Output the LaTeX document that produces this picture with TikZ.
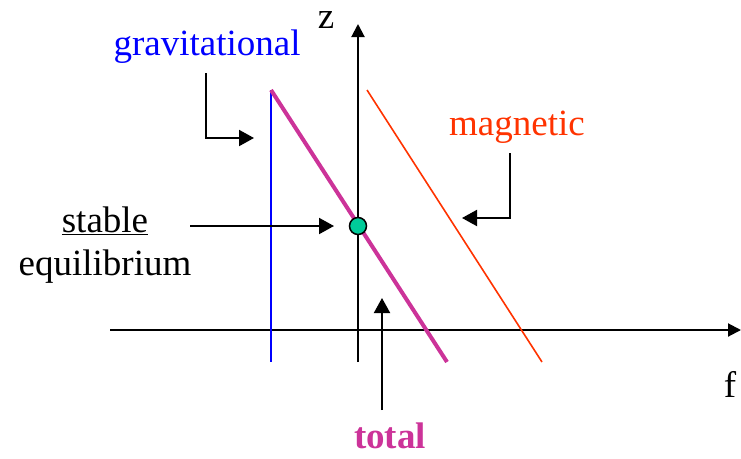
\documentclass[tikz,border=0pt]{standalone}
\usepackage{fontspec}
\setmainfont{Liberation Serif}
\usetikzlibrary{arrows.meta, positioning, calc}
\definecolor{gravblue}{RGB}{0,0,255}
\definecolor{magred}{RGB}{255,51,0}
\definecolor{totalpink}{RGB}{204,51,153}
\definecolor{eqgreen}{RGB}{0,204,153}
\tikzset{
    lbl/.style={font=\fontsize{37}{40}\selectfont, inner sep=0pt, anchor=base},
    ptr/.style={line width=2pt, -{Triangle[length=15pt,width=16pt]}}
}
\begin{document}
\begin{tikzpicture}[x=1pt,y=-1pt]
    \useasboundingbox (0,0) rectangle (741,458);

    % Axes
    \coordinate (xstart) at (110,330);
    \coordinate (xend) at (741,330);
    \coordinate (zstart) at (358,362);
    \coordinate (zend) at (358,24);
    \draw[line width=2pt, -{Triangle[length=13pt,width=13pt]}] (xstart) -- (xend);
    \draw[line width=2pt, -{Triangle[length=13pt,width=13pt]}] (zstart) -- (zend);
    \node[lbl] (zlabel) at (326,28) {z};
    \node[lbl] (flabel) at (730,397) {f};

    % Force lines
    \coordinate (gtop) at (271,90);
    \coordinate (gbot) at (271,362);
    \coordinate (ttop) at (271,90);
    \coordinate (tbot) at (447,362);
    \coordinate (mtop) at (367,90);
    \coordinate (mbot) at (542,362);
    \draw[gravblue, line width=1.6pt] (gtop) -- (gbot);
    \draw[magred, line width=1.6pt] (mtop) -- (mbot);
    \draw[totalpink, line width=4pt] (ttop) -- (tbot);

    % Equilibrium point
    \node[circle, draw, line width=1.5pt, fill=eqgreen, minimum size=17pt, inner sep=0pt] (eq) at (358,226) {};

    % Labels
    \node[lbl, gravblue] (grav) at (207,55) {gravitational};
    \node[lbl, magred] (mag) at (517,135) {magnetic};
    \node[lbl] (stable) at (105,232) {\underline{stable}};
    \node[lbl] (equil) at (105,275) {equilibrium};
    \node[lbl, totalpink, font=\fontsize{37}{40}\selectfont\bfseries] (total) at (390,448) {total};

    % Pointers
    \coordinate (gp1) at (206,73);
    \coordinate (gp2) at (206,138);
    \coordinate (gp3) at (254,138);
    \draw[ptr] (gp1) -- (gp2) -- (gp3);
    \coordinate (mp1) at (510,153);
    \coordinate (mp2) at (510,218);
    \coordinate (mp3) at (462,218);
    \draw[ptr] (mp1) -- (mp2) -- (mp3);
    \coordinate (sp1) at (190,226);
    \coordinate (sp2) at (334,226);
    \draw[ptr] (sp1) -- (sp2);
    \coordinate (tp1) at (382,410);
    \coordinate (tp2) at (382,298);
    \draw[ptr] (tp1) -- (tp2);
\end{tikzpicture}
\end{document}
